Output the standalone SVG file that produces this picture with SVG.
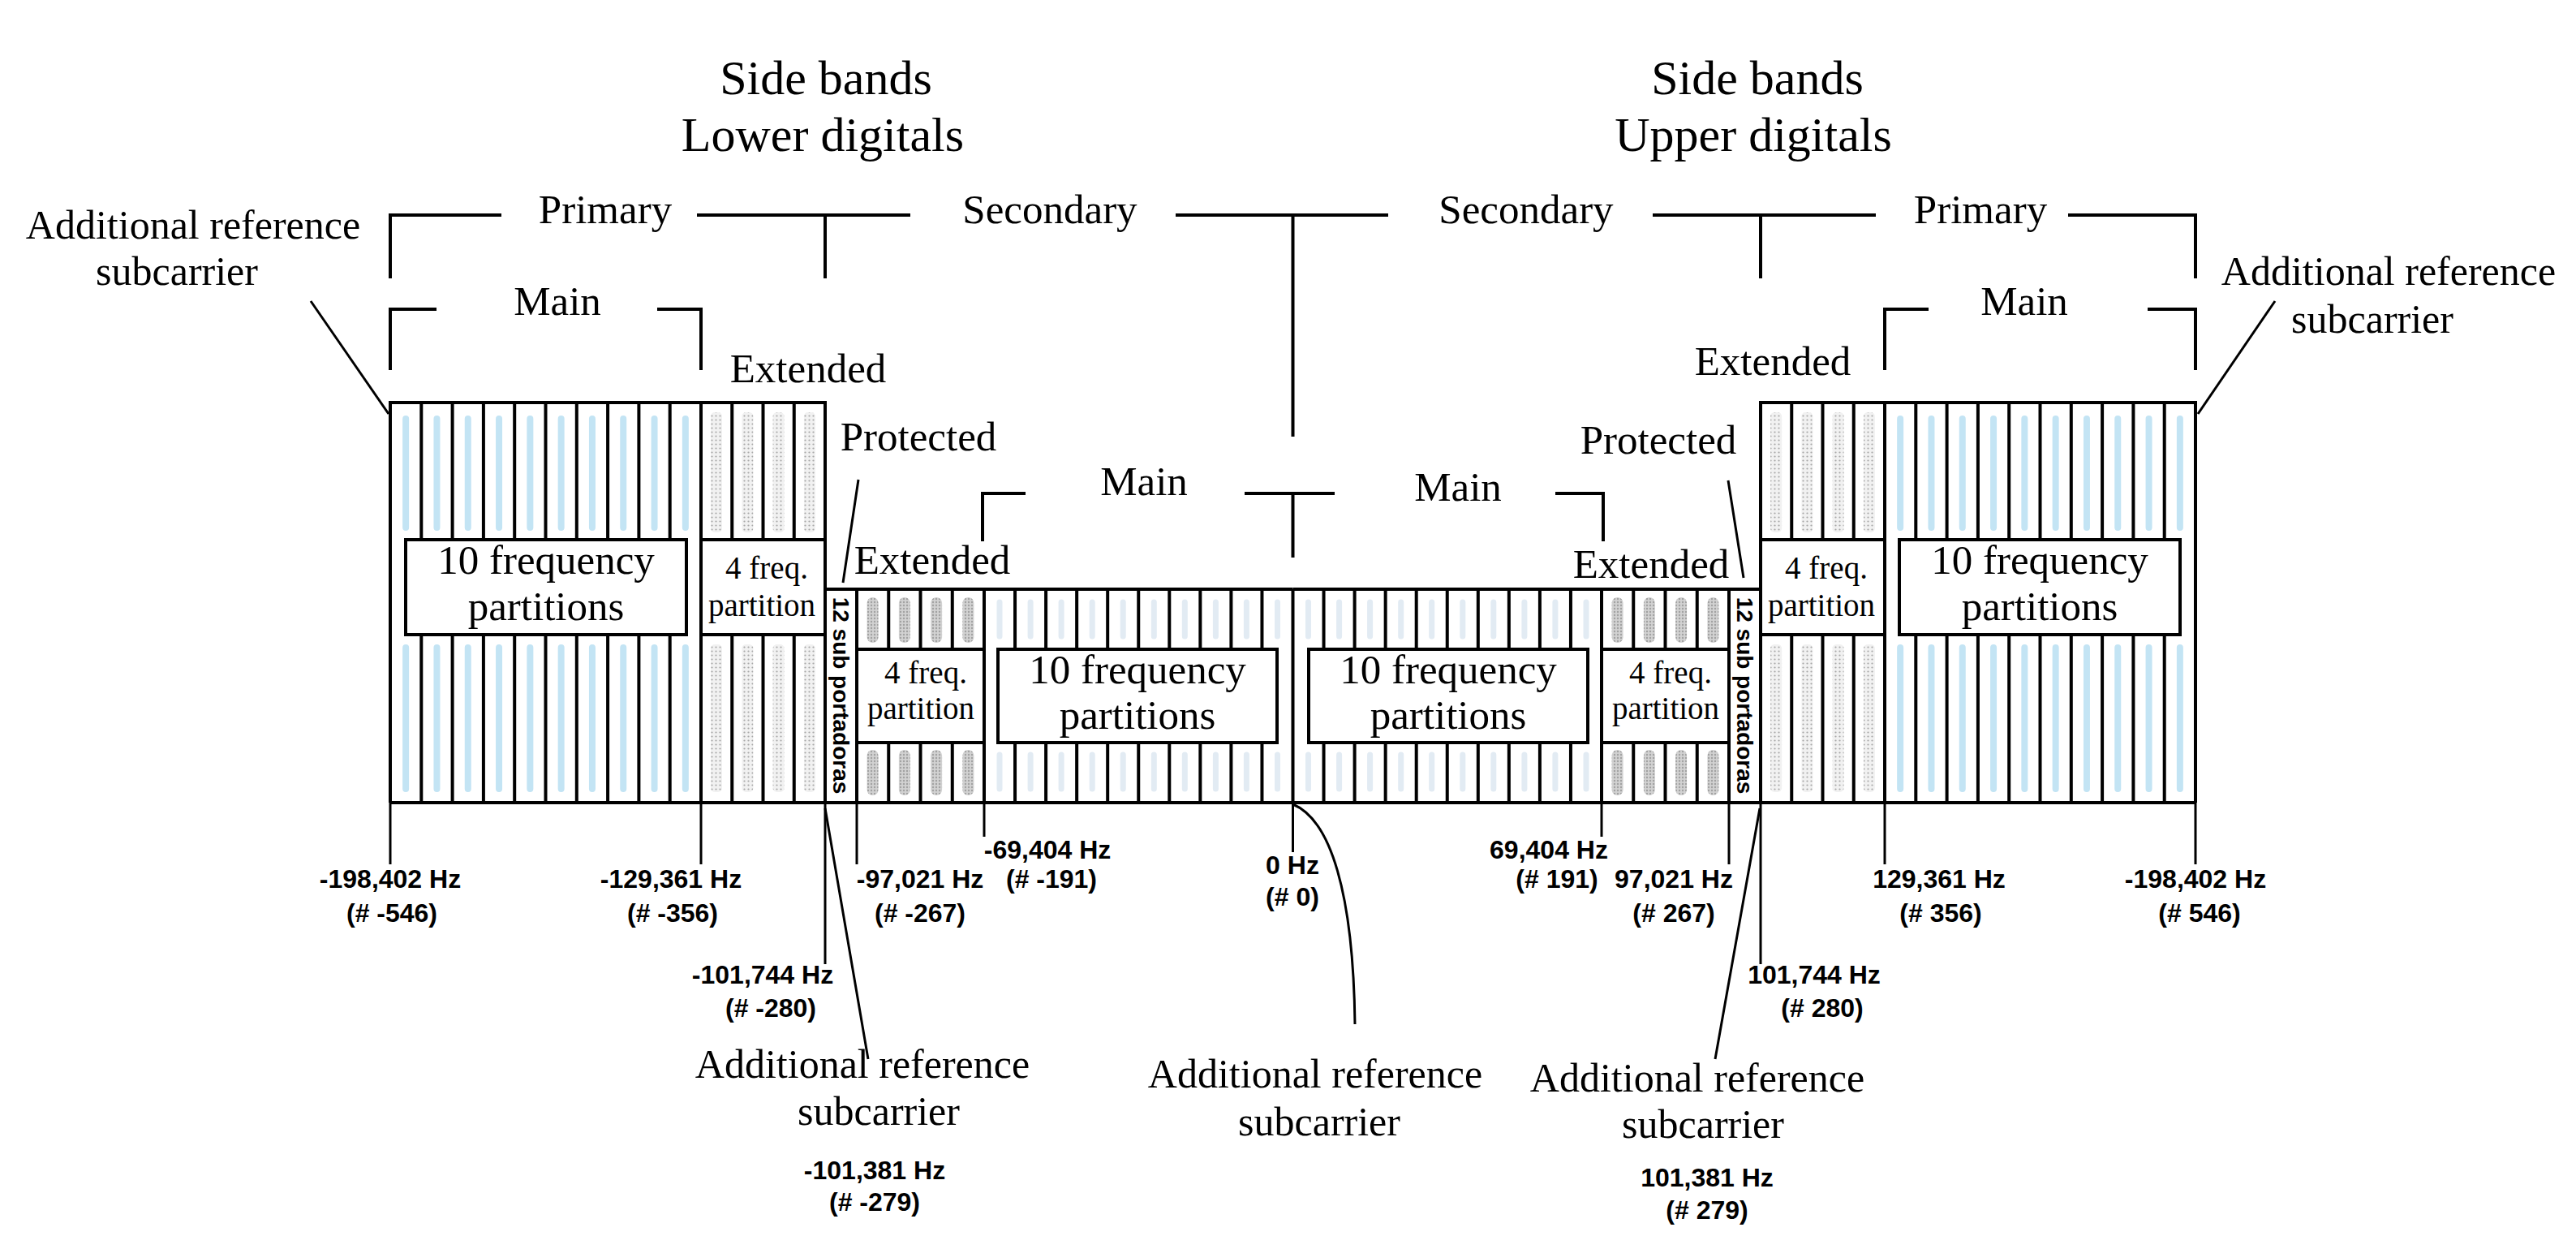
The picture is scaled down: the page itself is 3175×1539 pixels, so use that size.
<svg xmlns="http://www.w3.org/2000/svg" width="3175" height="1539" viewBox="0 0 3175 1539">
<defs>
<style>
.sf{font-family:"Liberation Serif","Times New Roman",serif;fill:#000;text-anchor:middle}
.t60{font-size:60px}
.t51{font-size:51px}
.t48{font-size:50px}
.t39{font-size:39px}
.hz{font-family:"Liberation Sans",Arial,sans-serif;font-weight:bold;font-size:32px;fill:#000;text-anchor:middle}
.strip{font-family:"Liberation Sans",Arial,sans-serif;font-weight:bold;font-size:28px;fill:#000;text-anchor:middle}
.ln{stroke:#000;fill:none;stroke-width:4}
.thin{stroke:#000;fill:none;stroke-width:3}
.box{fill:#fff;stroke:#000;stroke-width:4}
.blue{stroke:#c3e4f4;stroke-width:8;stroke-linecap:round;fill:none}
.faint{stroke:#e2ebf3;stroke-width:7;stroke-linecap:round;fill:none}
</style>
<pattern id="dotL" x="0" y="0" width="5" height="5" patternUnits="userSpaceOnUse">
<rect width="5" height="5" fill="#f1f1f1"/>
<circle cx="2.5" cy="2.5" r="1.1" fill="#a8a8a8"/>
</pattern>
<pattern id="dotD" x="0" y="0" width="4" height="4" patternUnits="userSpaceOnUse">
<rect width="4" height="4" fill="#d2d2d2"/>
<circle cx="2" cy="2" r="1.2" fill="#a2a2a2"/>
</pattern>
</defs>
<rect width="3175" height="1539" fill="#fff"/>

<!-- titles -->
<g id="title-lower">
<text class="sf t60" x="1018" y="116">Side bands</text>
<text class="sf t60" x="1014" y="186">Lower digitals</text>
</g>
<g id="title-upper">
<text class="sf t60" x="2166" y="116">Side bands</text>
<text class="sf t60" x="2161" y="186">Upper digitals</text>
</g>

<!-- stripes (fills of slats) -->
<g id="fills">
<path class="blue" d="M500.15,516V650M538.45,516V650M576.75,516V650M615.05,516V650M653.35,516V650M691.65,516V650M729.95,516V650M768.25,516V650M806.55,516V650M844.85,516V650
M500.15,798V972M538.45,798V972M576.75,798V972M615.05,798V972M653.35,798V972M691.65,798V972M729.95,798V972M768.25,798V972M806.55,798V972M844.85,798V972
M2686.85,516V650M2648.55,516V650M2610.25,516V650M2571.95,516V650M2533.65,516V650M2495.35,516V650M2457.05,516V650M2418.75,516V650M2380.45,516V650M2342.15,516V650
M2686.85,798V972M2648.55,798V972M2610.25,798V972M2571.95,798V972M2533.65,798V972M2495.35,798V972M2457.05,798V972M2418.75,798V972M2380.45,798V972M2342.15,798V972"/>
<path class="faint" d="M1232,742V784M1270.1,742V784M1308.1,742V784M1346.2,742V784M1384.2,742V784M1422.3,742V784M1460.3,742V784M1498.4,742V784M1536.4,742V784M1574.5,742V784
M1232,930V972M1270.1,930V972M1308.1,930V972M1346.2,930V972M1384.2,930V972M1422.3,930V972M1460.3,930V972M1498.4,930V972M1536.4,930V972M1574.5,930V972
M1955,742V784M1916.9,742V784M1878.9,742V784M1840.8,742V784M1802.8,742V784M1764.7,742V784M1726.7,742V784M1688.6,742V784M1650.6,742V784M1612.5,742V784
M1955,930V972M1916.9,930V972M1878.9,930V972M1840.8,930V972M1802.8,930V972M1764.7,930V972M1726.7,930V972M1688.6,930V972M1650.6,930V972M1612.5,930V972"/>
<g fill="url(#dotL)">
<rect x="876" y="508" width="14" height="148" rx="5"/><rect x="914.4" y="508" width="14" height="148" rx="5"/><rect x="952.6" y="508" width="14" height="148" rx="5"/><rect x="990.9" y="508" width="14" height="148" rx="5"/>
<rect x="876" y="794" width="14" height="182" rx="5"/><rect x="914.4" y="794" width="14" height="182" rx="5"/><rect x="952.6" y="794" width="14" height="182" rx="5"/><rect x="990.9" y="794" width="14" height="182" rx="5"/>
<rect x="2182.1" y="508" width="14" height="148" rx="5"/><rect x="2220.4" y="508" width="14" height="148" rx="5"/><rect x="2258.6" y="508" width="14" height="148" rx="5"/><rect x="2296.9" y="508" width="14" height="148" rx="5"/>
<rect x="2182.1" y="794" width="14" height="182" rx="5"/><rect x="2220.4" y="794" width="14" height="182" rx="5"/><rect x="2258.6" y="794" width="14" height="182" rx="5"/><rect x="2296.9" y="794" width="14" height="182" rx="5"/>
</g>
<g fill="url(#dotD)">
<rect x="1068.6" y="736" width="14" height="56" rx="7"/><rect x="1107.9" y="736" width="14" height="56" rx="7"/><rect x="1147.1" y="736" width="14" height="56" rx="7"/><rect x="1186.4" y="736" width="14" height="56" rx="7"/>
<rect x="1068.6" y="924" width="14" height="56" rx="7"/><rect x="1107.9" y="924" width="14" height="56" rx="7"/><rect x="1147.1" y="924" width="14" height="56" rx="7"/><rect x="1186.4" y="924" width="14" height="56" rx="7"/>
<rect x="1986.6" y="736" width="14" height="56" rx="7"/><rect x="2025.9" y="736" width="14" height="56" rx="7"/><rect x="2065.1" y="736" width="14" height="56" rx="7"/><rect x="2104.4" y="736" width="14" height="56" rx="7"/>
<rect x="1986.6" y="924" width="14" height="56" rx="7"/><rect x="2025.9" y="924" width="14" height="56" rx="7"/><rect x="2065.1" y="924" width="14" height="56" rx="7"/><rect x="2104.4" y="924" width="14" height="56" rx="7"/>
</g>
</g>

<!-- primary lower sideband -->
<g id="primary-lower">
<path class="ln" d="M519.3,496V665M557.6,496V665M595.9,496V665M634.2,496V665M672.5,496V665M710.8,496V665M749.1,496V665M787.4,496V665M825.7,496V665M902.25,496V665M940.5,496V665M978.75,496V665
M519.3,782V989M557.6,782V989M595.9,782V989M634.2,782V989M672.5,782V989M710.8,782V989M749.1,782V989M787.4,782V989M825.7,782V989M902.25,782V989M940.5,782V989M978.75,782V989
M481,989V496H1017V989M864,496V989"/>
<rect class="box" x="500" y="665" width="346" height="117"/>
<text class="sf t51" x="673" y="707">10 frequency</text>
<text class="sf t51" x="673" y="764">partitions</text>
<rect class="box" x="864" y="665" width="153" height="117"/>
<text class="sf t39" x="945" y="713">4 freq.</text>
<text class="sf t39" x="939" y="759">partition</text>
</g>

<!-- protected lower -->
<g id="protected-lower">
<path class="ln" d="M1017,726H1056V989"/>
<text class="strip" transform="translate(1036.5,857) rotate(90)" dy="10">12 sub portadoras</text>
</g>

<!-- secondary lower sideband -->
<g id="secondary-lower">
<path class="ln" d="M1095.25,726V800M1134.5,726V800M1173.75,726V800M1251.05,726V800M1289.1,726V800M1327.15,726V800M1365.2,726V800M1403.25,726V800M1441.3,726V800M1479.35,726V800M1517.4,726V800M1555.45,726V800
M1095.25,915V989M1134.5,915V989M1173.75,915V989M1251.05,915V989M1289.1,915V989M1327.15,915V989M1365.2,915V989M1403.25,915V989M1441.3,915V989M1479.35,915V989M1517.4,915V989M1555.45,915V989
M1056,726H1593.5M1213,726V989M1593.5,726V989"/>
<rect class="box" x="1056" y="800" width="157" height="115"/>
<text class="sf t39" x="1141" y="842">4 freq.</text>
<text class="sf t39" x="1135" y="886">partition</text>
<rect class="box" x="1230" y="800" width="344" height="115"/>
<text class="sf t51" x="1402" y="842">10 frequency</text>
<text class="sf t51" x="1402" y="898">partitions</text>
</g>

<!-- secondary upper sideband -->
<g id="secondary-upper">
<path class="ln" d="M1631.55,726V800M1669.6,726V800M1707.65,726V800M1745.7,726V800M1783.75,726V800M1821.8,726V800M1859.85,726V800M1897.9,726V800M1935.95,726V800M2013.25,726V800M2052.5,726V800M2091.75,726V800
M1631.55,915V989M1669.6,915V989M1707.65,915V989M1745.7,915V989M1783.75,915V989M1821.8,915V989M1859.85,915V989M1897.9,915V989M1935.95,915V989M2013.25,915V989M2052.5,915V989M2091.75,915V989
M1593.5,726H2131M1974,726V989"/>
<rect class="box" x="1613" y="800" width="344" height="115"/>
<text class="sf t51" x="1785" y="842">10 frequency</text>
<text class="sf t51" x="1785" y="898">partitions</text>
<rect class="box" x="1974" y="800" width="157" height="115"/>
<text class="sf t39" x="2059" y="842">4 freq.</text>
<text class="sf t39" x="2053" y="886">partition</text>
</g>

<!-- protected upper -->
<g id="protected-upper">
<path class="ln" d="M2131,989V726H2170"/>
<text class="strip" transform="translate(2150.5,857) rotate(90)" dy="10">12 sub portadoras</text>
</g>

<!-- primary upper sideband -->
<g id="primary-upper">
<path class="ln" d="M2208.25,496V665M2246.5,496V665M2284.75,496V665M2361.3,496V665M2399.6,496V665M2437.9,496V665M2476.2,496V665M2514.5,496V665M2552.8,496V665M2591.1,496V665M2629.4,496V665M2667.7,496V665
M2208.25,782V989M2246.5,782V989M2284.75,782V989M2361.3,782V989M2399.6,782V989M2437.9,782V989M2476.2,782V989M2514.5,782V989M2552.8,782V989M2591.1,782V989M2629.4,782V989M2667.7,782V989
M2170,989V496H2706V989M2323,496V989"/>
<rect class="box" x="2170" y="665" width="153" height="117"/>
<text class="sf t39" x="2251" y="713">4 freq.</text>
<text class="sf t39" x="2245" y="759">partition</text>
<rect class="box" x="2341" y="665" width="346" height="117"/>
<text class="sf t51" x="2514" y="707">10 frequency</text>
<text class="sf t51" x="2514" y="764">partitions</text>
</g>

<g id="baseline">
<path class="ln" d="M481,989H2706" stroke-width="5"/>
</g>

<!-- bracket labels -->
<g id="labels">
<text class="sf t51" x="746" y="275">Primary</text>
<text class="sf t51" x="1294" y="275">Secondary</text>
<text class="sf t51" x="1881" y="275">Secondary</text>
<text class="sf t51" x="2441" y="275">Primary</text>
<text class="sf t51" x="687" y="388">Main</text>
<text class="sf t51" x="2495" y="388">Main</text>
<text class="sf t51" x="996" y="471">Extended</text>
<text class="sf t51" x="2185" y="462">Extended</text>
<text class="sf t51" x="1132" y="555">Protected</text>
<text class="sf t51" x="2044" y="559">Protected</text>
<text class="sf t51" x="1410" y="610">Main</text>
<text class="sf t51" x="1797" y="617">Main</text>
<text class="sf t51" x="1149" y="707">Extended</text>
<text class="sf t51" x="2035" y="712">Extended</text>
</g>

<g id="ars-top-left">
<text class="sf t48" x="238" y="294">Additional reference</text>
<text class="sf t48" x="218" y="351">subcarrier</text>
</g>
<g id="ars-top-right">
<text class="sf t48" x="2944" y="351">Additional reference</text>
<text class="sf t48" x="2924" y="410">subcarrier</text>
</g>
<g id="ars-bottom-left">
<text class="sf t48" x="1063" y="1328">Additional reference</text>
<text class="sf t48" x="1083" y="1386">subcarrier</text>
<text class="hz" x="1078" y="1453">-101,381 Hz</text>
<text class="hz" x="1078" y="1492">(# -279)</text>
</g>
<g id="ars-center">
<text class="sf t48" x="1621" y="1340">Additional reference</text>
<text class="sf t48" x="1626" y="1399">subcarrier</text>
</g>
<g id="ars-bottom-right">
<text class="sf t48" x="2092" y="1345">Additional reference</text>
<text class="sf t48" x="2099" y="1402">subcarrier</text>
<text class="hz" x="2104" y="1462">101,381 Hz</text>
<text class="hz" x="2104" y="1502">(# 279)</text>
</g>

<!-- frequency labels -->
<g id="freq-labels">
<text class="hz" x="481" y="1094">-198,402 Hz</text><text class="hz" x="483" y="1136">(# -546)</text>
<text class="hz" x="827" y="1094">-129,361 Hz</text><text class="hz" x="829" y="1136">(# -356)</text>
<text class="hz" x="940" y="1212">-101,744 Hz</text><text class="hz" x="950" y="1253">(# -280)</text>
<text class="hz" x="1134" y="1094">-97,021 Hz</text><text class="hz" x="1134" y="1136">(# -267)</text>
<text class="hz" x="1291" y="1058">-69,404 Hz</text><text class="hz" x="1296" y="1094">(# -191)</text>
<text class="hz" x="1593" y="1077">0 Hz</text><text class="hz" x="1593" y="1116">(# 0)</text>
<text class="hz" x="1909" y="1058">69,404 Hz</text><text class="hz" x="1919" y="1094">(# 191)</text>
<text class="hz" x="2063" y="1094">97,021 Hz</text><text class="hz" x="2063" y="1136">(# 267)</text>
<text class="hz" x="2236" y="1212">101,744 Hz</text><text class="hz" x="2246" y="1253">(# 280)</text>
<text class="hz" x="2390" y="1094">129,361 Hz</text><text class="hz" x="2392" y="1136">(# 356)</text>
<text class="hz" x="2706" y="1094">-198,402 Hz</text><text class="hz" x="2711" y="1136">(# 546)</text>
</g>

<!-- connectors -->
<g id="connectors">
<path class="ln" d="M481,343V265H618M859,265H1122M1017,265V343M1449,265H1711M1593.5,265V538M2037,265H2312M2170,265V343M2549,265H2706V343"/>
<path class="ln" d="M481,456V381H538M810,381H864V456M2323,456V381H2377M2647,381H2706V456"/>
<path class="ln" d="M1211,667V608H1264M1534,608H1645M1593.5,608V687M1917,608H1976V667"/>
<path class="thin" d="M481,989V1065M864,989V1065M1017,989V1188M1056,989V1065M1213,989V1031M1593.5,989V1050M1974,989V1031M2131,989V1065M2170,989V1188M2323,989V1065M2706,989V1065"/>
<path class="thin" d="M383,371L479,510M2804,371L2709,510M1058,591L1039,718M2130,592L2149,712M1017,996L1070,1305M2169,996L2114,1305M1593.5,991C1640,1010 1668,1100 1670,1262"/>
</g>
</svg>
